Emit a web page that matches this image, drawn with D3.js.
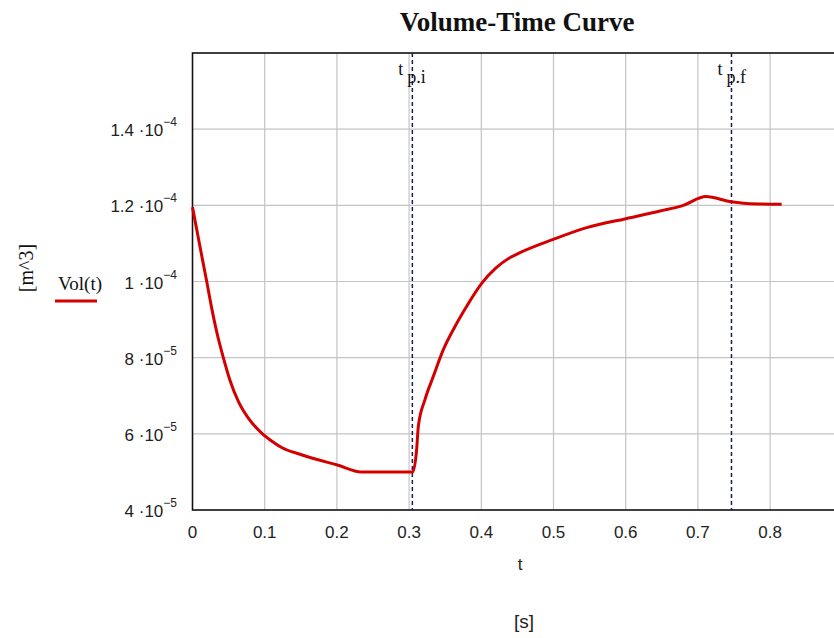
<!DOCTYPE html>
<html>
<head>
<meta charset="utf-8">
<script src="https://cdn.jsdelivr.net/npm/d3@7"></script>
<style>
  body { margin: 0; background: #fff; }
</style>
</head>
<body>
<script>

// curve (t in s, volume in m^3)
const tValues = [0, 0.01, 0.0197, 0.0266, 0.0335, 0.0427, 0.052, 0.0635, 0.0773, 0.0958, 0.112, 0.1235, 0.151, 0.2006, 0.234,
  0.3036, 0.305, 0.3105, 0.3128, 0.322, 0.3336, 0.3474, 0.3636, 0.3798, 0.4005, 0.42, 0.44, 0.4536, 0.4997,
  0.546, 0.6004, 0.6475, 0.6798, 0.7112, 0.7445, 0.7676, 0.816];
const volValues = [1.195e-4, 1.095e-4, 1.0e-4, 9.3e-5, 8.68e-5, 8.0e-5, 7.4e-5, 6.85e-5, 6.41e-5, 6.02e-5, 5.78e-5, 5.64e-5, 5.45e-5, 5.18e-5, 5.0e-5,
  5.0e-5, 5.0e-5, 5.6e-5, 6.2e-5, 6.9e-5, 7.51e-5, 8.21e-5, 8.82e-5, 9.35e-5, 9.95e-5, 1.035e-4, 1.063e-4, 1.0757e-4, 1.1106e-4,
  1.1414e-4, 1.165e-4, 1.185e-4, 1.2e-4, 1.223e-4, 1.21e-4, 1.205e-4, 1.203e-4];

// markers
const markerNames = ["p.i", "p.f"];
const markerTimes = [0.3045, 0.7465];

// ticks
const xTicks = [0, 0.1, 0.2, 0.3, 0.4, 0.5, 0.6, 0.7, 0.8];
const xTickLabels = ["0", "0.1", "0.2", "0.3", "0.4", "0.5", "0.6", "0.7", "0.8"];
const xGrid = [0.1, 0.2, 0.3, 0.4, 0.5, 0.6, 0.7, 0.8, 0.9];
const yTicks = [4e-5, 6e-5, 8e-5, 1e-4, 1.2e-4, 1.4e-4];
const yTickMant = ["4", "6", "8", "1", "1.2", "1.4"];
const yTickExp = ["\u22125", "\u22125", "\u22125", "\u22124", "\u22124", "\u22124"];

const data = tValues.map((t, i) => ({ t: t, v: volValues[i] }));

let width = 834,
    height = 638;

let margin = { top: 53, bottom: 128, left: 192.5 };

let svg = d3.select('body')
            .append('svg')
            .attr('width', width)
            .attr('height', height)
            .style('background', '#fff')

let xScale = d3.scaleLinear()
              .domain([0, 0.9])
              .range([margin.left, margin.left + 0.9 * 722])

let yScale = d3.scaleLinear()
              .domain([4e-5, 1.6e-4])
              .range([height - margin.bottom, margin.top])

const serif = "'Liberation Serif', 'Times New Roman', serif";
const sans = "'Liberation Sans', Arial, sans-serif";

// grid
svg.append('g')
  .selectAll('line')
  .data(xGrid)
  .enter()
  .append('line')
  .attr('x1', d => xScale(d))
  .attr('x2', d => xScale(d))
  .attr('y1', yScale(1.6e-4))
  .attr('y2', yScale(4e-5))
  .attr('stroke', '#c4c4c4')
  .attr('stroke-width', 1.2)

svg.append('g')
  .selectAll('line')
  .data(yTicks.slice(1))
  .enter()
  .append('line')
  .attr('x1', xScale(0))
  .attr('x2', xScale(0.9))
  .attr('y1', d => yScale(d))
  .attr('y2', d => yScale(d))
  .attr('stroke', '#c4c4c4')
  .attr('stroke-width', 1.2)

// frame
svg.append('rect')
  .attr('x', xScale(0))
  .attr('y', yScale(1.6e-4))
  .attr('width', xScale(0.9) - xScale(0))
  .attr('height', yScale(4e-5) - yScale(1.6e-4))
  .attr('fill', 'none')
  .attr('stroke', '#111')
  .attr('stroke-width', 1.6)

// x tick labels
svg.append('g')
  .selectAll('text')
  .data(xTicks)
  .enter()
  .append('text')
  .attr('x', d => xScale(d))
  .attr('y', 538)
  .attr('text-anchor', 'middle')
  .style('font-family', sans)
  .style('font-size', '17px')
  .attr('fill', '#222')
  .text((d, i) => xTickLabels[i])

// y tick labels (mantissa ·10 with superscript exponent)
let yLab = svg.append('g')
  .selectAll('text')
  .data(yTicks)
  .enter()
  .append('text')
  .attr('x', 177)
  .attr('y', d => yScale(d) + 7)
  .attr('text-anchor', 'end')
  .style('font-family', sans)
  .style('font-size', '17px')
  .attr('fill', '#222')

yLab.append('tspan').text((d, i) => yTickMant[i] + " \u00b710")
yLab.append('tspan')
  .attr('dy', -10)
  .style('font-size', '12px')
  .text((d, i) => yTickExp[i])

// marker lines
svg.append('g')
  .selectAll('line')
  .data(markerTimes)
  .enter()
  .append('line')
  .attr('x1', d => xScale(d))
  .attr('x2', d => xScale(d))
  .attr('y1', yScale(1.6e-4))
  .attr('y2', yScale(4e-5))
  .attr('stroke', '#1a1a5e')
  .attr('stroke-width', 1.5)
  .attr('stroke-dasharray', '4,3')

let mLab = svg.append('g')
  .selectAll('text')
  .data(markerTimes)
  .enter()
  .append('text')
  .attr('x', d => xScale(d) - 14)
  .attr('y', 75)
  .style('font-family', serif)
  .style('font-size', '18px')
  .attr('fill', '#111')

mLab.append('tspan').text('t')
mLab.append('tspan')
  .attr('dx', 4)
  .attr('dy', 8)
  .style('font-size', '18px')
  .text((d, i) => markerNames[i])

// the curve
let line = d3.line()
            .x(d => xScale(d.t))
            .y(d => yScale(d.v))
            .curve(d3.curveMonotoneX)

svg.append('path')
  .datum(data)
  .attr('fill', 'none')
  .attr('stroke', '#d40000')
  .attr('stroke-width', 3)
  .attr('stroke-linejoin', 'round')
  .attr('d', line)

// title
svg.append('text')
  .attr('x', 517)
  .attr('y', 31)
  .attr('text-anchor', 'middle')
  .style('font-family', serif)
  .style('font-size', '27px')
  .style('font-weight', 'bold')
  .attr('fill', '#111')
  .text('Volume-Time Curve')

// axis labels
svg.append('text')
  .attr('x', 520)
  .attr('y', 570)
  .attr('text-anchor', 'middle')
  .style('font-family', sans)
  .style('font-size', '17px')
  .attr('fill', '#222')
  .text('t')

svg.append('text')
  .attr('x', 524)
  .attr('y', 628)
  .attr('text-anchor', 'middle')
  .style('font-family', sans)
  .style('font-size', '19px')
  .attr('fill', '#222')
  .text('[s]')

svg.append('text')
  .attr('transform', 'translate(33, 268) rotate(-90)')
  .attr('text-anchor', 'middle')
  .style('font-family', serif)
  .style('font-size', '20px')
  .attr('fill', '#111')
  .text('[m^3]')

// legend
svg.append('text')
  .attr('x', 58)
  .attr('y', 290)
  .style('font-family', serif)
  .style('font-size', '19px')
  .attr('fill', '#111')
  .text('Vol(t)')

svg.append('line')
  .attr('x1', 55)
  .attr('x2', 97)
  .attr('y1', 301)
  .attr('y2', 301)
  .attr('stroke', '#d40000')
  .attr('stroke-width', 3)

</script>
</body>
</html>
